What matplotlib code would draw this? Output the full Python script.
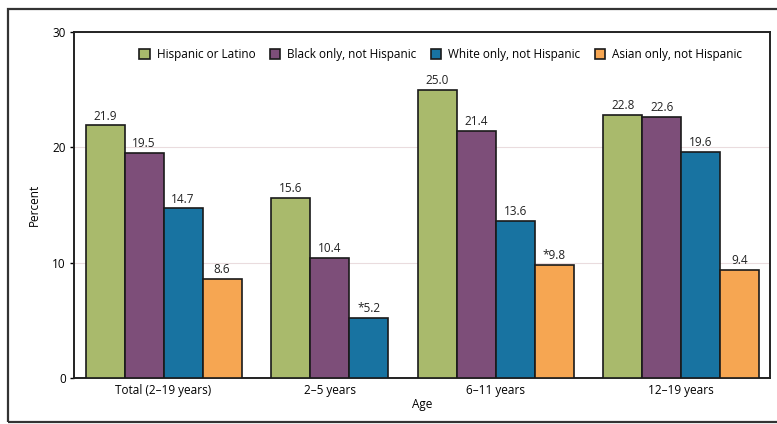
import numpy as np
import matplotlib
matplotlib.use("Agg")
import matplotlib.pyplot as plt
from matplotlib.patches import Rectangle

plt.rcParams['font.family'] = ['Open Sans', 'DejaVu Sans']

groups = ["Total (2\u201319 years)", "2\u20135 years", "6\u201311 years", "12\u201319 years"]
series = ["Hispanic or Latino", "Black only, not Hispanic",
          "White only, not Hispanic", "Asian only, not Hispanic"]
hispanic = [21.9, 15.6, 25.0, 22.8]
black = [19.5, 10.4, 21.4, 22.6]
white = [14.7, 5.2, 13.6, 19.6]
asian = [8.6, np.nan, 9.8, 9.4]
# values flagged with an asterisk (unreliable estimate)
flagged = {(2, 1), (3, 2)}

colors = ["#A9BA6C", "#7D4E79", "#1873A1", "#F6A652"]
values = [hispanic, black, white, asian]

fig = plt.figure(figsize=(7.77, 4.24), dpi=100)
ax = fig.add_axes([0.0952, 0.1085, 0.8958, 0.816])

# outer frame
fig.patches.append(Rectangle((8 / 777, 2 / 424), 775 / 777, 413 / 424, transform=fig.transFigure,
                             fill=False, edgecolor="#333333", linewidth=1.6))

gap = 0.76
pos = 0.0
centers = []
handles = [None] * 4
for g in range(len(groups)):
    xs = []
    for s in range(4):
        v = values[s][g]
        if np.isnan(v):
            continue
        b = ax.bar(pos, v, width=1.0, color=colors[s], edgecolor="#1a1a1a", linewidth=1.2,
                   label=series[s], zorder=3)
        if handles[s] is None:
            handles[s] = b
        lab = f"{v:.1f}"
        if (s, g) in flagged:
            lab = "*" + lab
        ax.text(pos, v + 0.25, lab, ha="center", va="bottom", fontsize=8.5, color="#222222")
        xs.append(pos)
        pos += 1
    centers.append(np.mean(xs))
    pos += gap

ax.set_xlim(-0.8, pos - gap - 1 + 0.78)
ax.set_ylim(0, 30)
ax.set_yticks([0, 10, 20, 30])
ax.set_xticks(centers)
ax.set_xticklabels(groups, fontsize=8.5)
ax.tick_params(axis="x", length=0, pad=4)
ax.tick_params(axis="y", length=3, labelsize=8.5, pad=3, width=1)
ax.grid(axis="y", color="#EADCDE", linewidth=0.8, zorder=0)
for sp in ax.spines.values():
    sp.set_linewidth(1.4)
    sp.set_color("#222222")

ax.set_ylabel("Percent", fontsize=8.5, labelpad=8)
ax.set_xlabel("Age", fontsize=8.5, labelpad=1)

ax.legend(handles=handles, labels=series, ncol=4, frameon=False, fontsize=8.5,
          loc="center", bbox_to_anchor=(0.527, 0.935), handlelength=0.9, handleheight=0.9,
          handletextpad=0.6, columnspacing=1.2)

fig.savefig("out.png", dpi=100)
